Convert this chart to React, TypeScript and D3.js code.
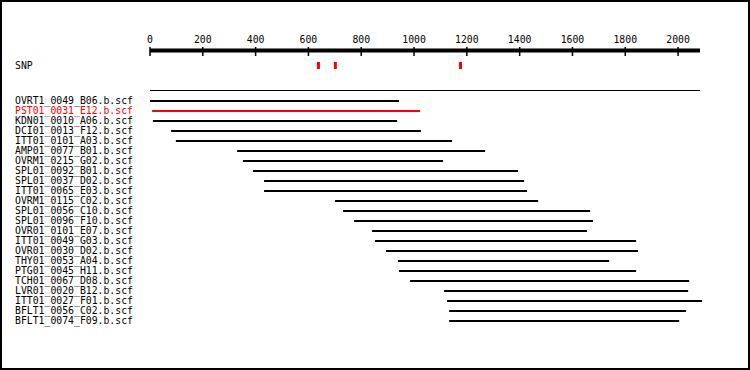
import * as d3 from "d3";

// read trace names and their aligned extents (bp)
const reads = [
  "OVRT1_0049_B06.b.scf",
  "PST01_0031_E12.b.scf",
  "KDN01_0010_A06.b.scf",
  "DCI01_0013_F12.b.scf",
  "ITT01_0101_A03.b.scf",
  "AMP01_0077_B01.b.scf",
  "OVRM1_0215_G02.b.scf",
  "SPL01_0092_B01.b.scf",
  "SPL01_0037_D02.b.scf",
  "ITT01_0065_E03.b.scf",
  "OVRM1_0115_C02.b.scf",
  "SPL01_0056_C10.b.scf",
  "SPL01_0096_F10.b.scf",
  "OVR01_0101_E07.b.scf",
  "ITT01_0049_G03.b.scf",
  "OVR01_0030_D02.b.scf",
  "THY01_0053_A04.b.scf",
  "PTG01_0045_H11.b.scf",
  "TCH01_0067_D08.b.scf",
  "LVR01_0020_B12.b.scf",
  "ITT01_0027_F01.b.scf",
  "BFLT1_0056_C02.b.scf",
  "BFLT1_0074_F09.b.scf",
];
const readStart = [0, 8, 11, 80, 98, 330, 352, 390, 432, 432, 701, 731, 773, 841, 852, 894, 939, 943, 985, 1114, 1125, 1133, 1133];
const readEnd = [943, 1023, 936, 1026, 1144, 1269, 1110, 1394, 1417, 1428, 1470, 1667, 1678, 1655, 1841, 1848, 1739, 1841, 2042, 2038, 2091, 2030, 2004];
const highlighted = ["PST01_0031_E12.b.scf"];

const snpPositions = [638, 702, 1176];
const tickValues = [0, 200, 400, 600, 800, 1000, 1200, 1400, 1600, 1800, 2000];
const consensusLength = 2083;

const W = 750;
const H = 370;
const FONT = "'DejaVu Sans Mono', monospace";

export default function App() {
  const x = d3.scaleLinear().domain([0, consensusLength]).range([150, 700]);
  const axisY = 50.5;
  const rowY = d3
    .scalePoint<string>()
    .domain(reads)
    .range([101, 101 + (reads.length - 1) * 10]);

  return (
    <svg
      width={W}
      height={H}
      style={{ position: "absolute", left: 0, top: 0, background: "#fff" }}
      fontFamily={FONT}
    >
      <rect x={1} y={1} width={W - 2} height={H - 2} fill="#fff" stroke="#000" strokeWidth={2} />

      {/* scale bar */}
      <line x1={x(0)} x2={x(consensusLength)} y1={axisY} y2={axisY} stroke="#000" strokeWidth={4} />
      {tickValues.map((t) => (
        <g key={t}>
          <line x1={x(t)} x2={x(t)} y1={47} y2={56} stroke="#000" strokeWidth={1.5} />
          <text x={x(t)} y={42.5} fontSize={9.8} textAnchor="middle" fill="#000">
            {t}
          </text>
        </g>
      ))}

      {/* SNP track */}
      <text x={15} y={69} fontSize={9.8} fill="#000">SNP</text>
      {snpPositions.map((p) => (
        <rect key={p} x={x(p) - 1.5} y={62} width={3} height={7} fill="#ff0000" />
      ))}

      {/* consensus */}
      <line x1={x(0)} x2={x(consensusLength)} y1={90.5} y2={90.5} stroke="#000" strokeWidth={1} />

      {/* reads */}
      {reads.map((r, i) => {
        const col = highlighted.includes(r) ? "#ff0000" : "#000";
        const y = rowY(r)!;
        return (
          <g key={r}>
            <text x={15} y={y + 2.5} fontSize={9.8} fill={col}>
              {r}
            </text>
            <line x1={x(readStart[i])} x2={x(readEnd[i])} y1={y} y2={y} stroke={col} strokeWidth={2} />
          </g>
        );
      })}
    </svg>
  );
}
